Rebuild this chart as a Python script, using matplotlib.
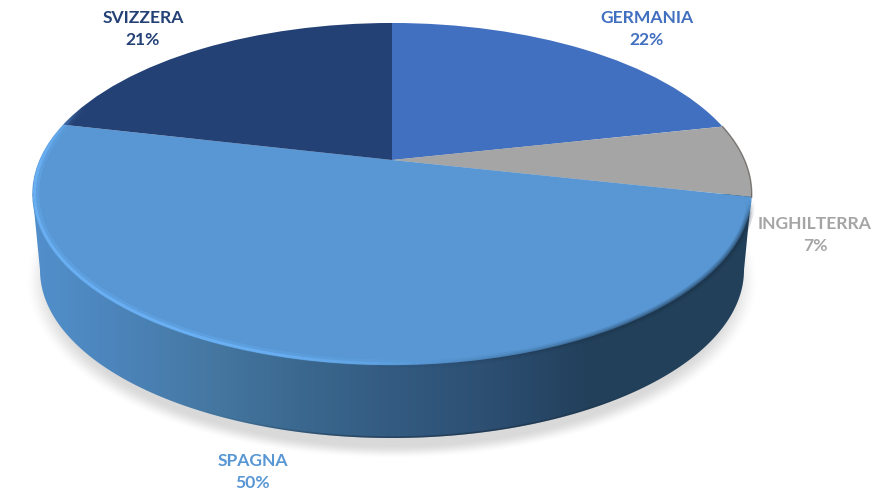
import matplotlib

matplotlib.use("Agg")
import matplotlib.pyplot as plt
import numpy as np
from matplotlib.collections import LineCollection
from matplotlib.colors import to_rgb
from matplotlib.patches import Polygon
from matplotlib.transforms import Transform

labels = ["GERMANIA", "INGHILTERRA", "SPAGNA", "SVIZZERA"]
values = [21.6, 6.85, 50.15, 21.4]
colors = ["#4270c0", "#a5a5a5", "#5897d4", "#244176"]
label_x = [647, 815, 253, 143]
label_y = [29, 235, 472, 29]

W, H = 894, 492

# perspective of the pie top, apex at (392, 160)
CX, CY = 392, 160
A, B, K = 352.5, 164.3, 0.199


class TopView(Transform):
    input_dims = 2
    output_dims = 2

    def transform_non_affine(self, pts):
        pts = np.asarray(pts, dtype=float)
        w = 1 + K * pts[:, 1]
        return np.column_stack([CX + A * pts[:, 0] / w, CY - B * pts[:, 1] / w])


def rim(theta, r=1.0):
    # theta in degrees, clockwise from the back of the pie
    t = np.radians(theta)
    return TopView().transform_non_affine(
        np.column_stack([r * np.sin(t), r * np.cos(t)])
    )


def fade(x, a, b):
    s = np.clip((x - a) / (b - a), 0, 1)
    return s * s * (3 - 2 * s)


def rim_lines(r, rgb, alpha, lw, theta, zorder=4):
    pts = rim(theta, r)
    segs = np.stack([pts[:-1], pts[1:]], axis=1)
    rgba = np.zeros((len(segs), 4))
    rgba[:, :3] = to_rgb(rgb)
    rgba[:, 3] = alpha
    ax.add_collection(LineCollection(segs, colors=rgba, linewidths=lw, zorder=zorder))


fig = plt.figure(figsize=(W / 100, H / 100), dpi=100)
ax = fig.add_axes([0, 0, 1, 1])

# soft shadow under the pie
xx, yy = np.meshgrid(np.arange(W) + 0.5, np.arange(H) + 0.5)
rr = np.hypot((xx - 392) / 367, (yy - 281) / 178)
shadow = np.zeros((H, W, 4))
shadow[..., :3] = 0.35
shadow[..., 3] = 0.23 * (1 - fade(rr, 0.92, 1.0))
ax.imshow(shadow, extent=(0, W, H, 0), aspect="auto", zorder=1)

# side wall, horizontal gradient clipped to the silhouette
t = np.radians(np.linspace(180, 360, 200))
wall_pts = np.column_stack([392 + 352 * np.cos(t), 270 - 168 * np.sin(t)])
wall_pts = np.vstack([[[32.5, 194]], wall_pts, [[751.5, 194]]])
wall = Polygon(wall_pts, closed=True, transform=ax.transData, fc="none", ec="none")
ax.add_patch(wall)

stop_x = [30, 120, 220, 300, 400, 480, 540, 590, 760]
stop_c = [
    "#5290cc", "#4c84ba", "#44769f", "#3b688f", "#335a80",
    "#2d5073", "#284767", "#22405a", "#22405a",
]
stop_rgb = np.array([to_rgb(c) for c in stop_c])
grad = np.stack(
    [np.interp(np.arange(W) + 0.5, stop_x, stop_rgb[:, i]) for i in range(3)], axis=-1
)[None, :, :]
img = ax.imshow(grad, extent=(0, W, H, 0), aspect="auto", zorder=2)
img.set_clip_path(wall)

# dark line along the bottom edge of the wall, only near the front
t2 = np.linspace(200, 340, 300)
px = 392 + 352 * np.cos(np.radians(t2))
py = 270 - 168 * np.sin(np.radians(t2)) - 0.8
segs = np.stack(
    [np.column_stack([px, py])[:-1], np.column_stack([px, py])[1:]], axis=1
)
mid2 = 0.5 * (t2[:-1] + t2[1:])
rgba = np.zeros((len(segs), 4))
rgba[:, :3] = to_rgb("#14202c")
rgba[:, 3] = 0.4 * fade(mid2, 235, 270) * (1 - fade(mid2, 285, 320))
ax.add_collection(LineCollection(segs, colors=rgba, linewidths=1.2, zorder=2.5))

# top of the pie, from the library's own pie wedges bent into perspective
wedges, _ = ax.pie(values, colors=colors, startangle=90, counterclock=False, frame=True)
for w in wedges:
    w.set_transform(TopView() + ax.transData)
    w.set_zorder(3)
    w.set_linewidth(0)

# rim effects
theta = np.linspace(100, 300, 500)
mid = 0.5 * (theta[:-1] + theta[1:])

light = fade(mid, 165, 205) * (1 - fade(mid, 268, 292))
rim_lines(0.99, "#68b0f5", light * 0.35, 4.5, theta)
rim_lines(0.994, "#6cb3f7", light * 0.9, 2.0, theta)

dark = (1 - fade(mid, 130, 185)) * fade(mid, 103, 112)
for lw, al in [(6, 0.2), (3.5, 0.28), (1.5, 0.35)]:
    rim_lines(1.0, "#1c3348", dark * al, lw, theta)

# thin dark edge on the grey slice
edge = rim(np.linspace(77.8, 102.5, 60), 1.0)
ax.plot(edge[:, 0], edge[:, 1], color="#55504c", lw=1.0, alpha=0.7, zorder=4)

for name, val, col, x, y in zip(labels, values, colors, label_x, label_y):
    ax.text(
        x,
        y,
        f"{name}\n{val:.0f}%",
        color=col,
        fontfamily="Lato",
        fontweight="bold",
        fontsize=12.6,
        ha="center",
        va="center",
        linespacing=1.5,
        zorder=5,
    )

ax.set_aspect("auto")
ax.set_xlim(0, W)
ax.set_ylim(H, 0)
ax.axis("off")

fig.savefig("out.png", dpi=100, facecolor="white")
